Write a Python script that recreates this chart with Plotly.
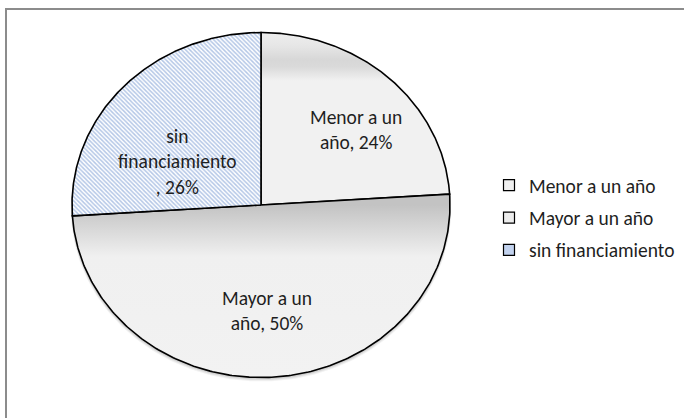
import numpy as np
import plotly.graph_objects as go

# ---- data ----
categories = ["Menor a un año", "Mayor a un año", "sin financiamiento"]
values = [24, 50, 26]
label_lines = [["Menor a un", "año, 24%"], ["Mayor a un", "año, 50%"], ["sin", "financiamiento", ", 26%"]]

# ---- styles ----
FONT = "Calibri, Carlito, 'Open Sans', sans-serif"
W, H = 684, 418
CX, CY, RX, RY = 261, 205, 189, 172.5  # pie centre / radii in pixels
label_px = [(356, 130), (267, 310), (177, 161)]
legend_colors = ["#f0f0f0", "#ececec", "#c2d2ee"]

fig = go.Figure()

total = float(sum(values))
fracs = np.cumsum([0] + values) / total

def slice_xy(a0, a1, n=240):
    t = np.linspace(a0, a1, n) * 2 * np.pi
    xs = np.concatenate([[0], np.sin(t), [0]])
    ys = np.concatenate([[0], np.cos(t), [0]])
    return xs, ys

# shadow
t = np.linspace(0, 2 * np.pi, 400)
for k, op in [(4, 0.05), (3, 0.06), (2, 0.08)]:
    fig.add_trace(go.Scatter(x=np.sin(t) * (1 + k / RX * 0.3), y=np.cos(t) - k / RY,
                             mode="lines", fill="toself", line=dict(width=0),
                             fillcolor=f"rgba(0,0,0,{op})", hoverinfo="skip", showlegend=False))

fills = [
    dict(fillgradient=dict(type="vertical", start=0, stop=1,
                           colorscale=[[0, "#f1f1f1"], [0.72, "#f1f1f1"], [0.80, "#dadada"],
                                       [0.84, "#d7d7d7"], [0.92, "#e6e6e6"], [1, "#eeeeee"]])),
    dict(fillgradient=dict(type="vertical", start=-1, stop=0,
                           colorscale=[[0, "#f2f2f2"], [0.70, "#f0f0f0"], [1, "#c3c3c3"]])),
    dict(fillcolor="white",
         fillpattern=dict(shape="\\", fgcolor="#6a8fce", bgcolor="white", size=3, solidity=0.5)),
]

for i, cat in enumerate(categories):
    xs, ys = slice_xy(fracs[i], fracs[i + 1])
    fig.add_trace(go.Scatter(x=xs, y=ys, mode="lines", fill="toself",
                             line=dict(color="black", width=1.6),
                             name=cat, showlegend=False, hoverinfo="skip", **fills[i]))

# legend entries
for i, cat in enumerate(categories):
    fig.add_trace(go.Scatter(x=[None], y=[None], mode="markers", name=cat,
                             legendgroup=f"g{i}",
                             marker=dict(symbol="square", size=11, color=legend_colors[i],
                                         line=dict(color="black", width=1.2))))

for i, lines in enumerate(label_lines):
    px, py = label_px[i]
    fig.add_annotation(x=px / W, y=1 - py / H, xref="paper", yref="paper",
                       text="<br>".join(lines), showarrow=False,
                       font=dict(family=FONT, size=19.5, color="#1e1e1e"),
                       xanchor="center", yanchor="middle", align="center")

# chart area border (left/top visible)
fig.add_shape(type="rect", xref="paper", yref="paper",
              x0=6 / W, x1=1.02, y0=-0.05, y1=1 - 9 / H,
              line=dict(color="#8c8c8c", width=2), layer="below")

x0 = -CX / RX
x1 = (W - CX) / RX
y1 = CY / RY
y0 = -(H - CY) / RY

fig.update_layout(
    width=W, height=H,
    margin=dict(l=0, r=0, t=0, b=0),
    paper_bgcolor="white", plot_bgcolor="white",
    xaxis=dict(range=[x0, x1], visible=False, fixedrange=True),
    yaxis=dict(range=[y0, y1], visible=False, fixedrange=True),
    showlegend=True,
    legend=dict(x=489 / W, y=1 - 166 / H, xanchor="left", yanchor="top",
                font=dict(family=FONT, size=19.5, color="#1e1e1e"),
                tracegroupgap=4, bgcolor="rgba(0,0,0,0)"),
)

fig.write_html("out.html", config={"displayModeBar": False},
               post_script="document.body.style.margin='0';")
